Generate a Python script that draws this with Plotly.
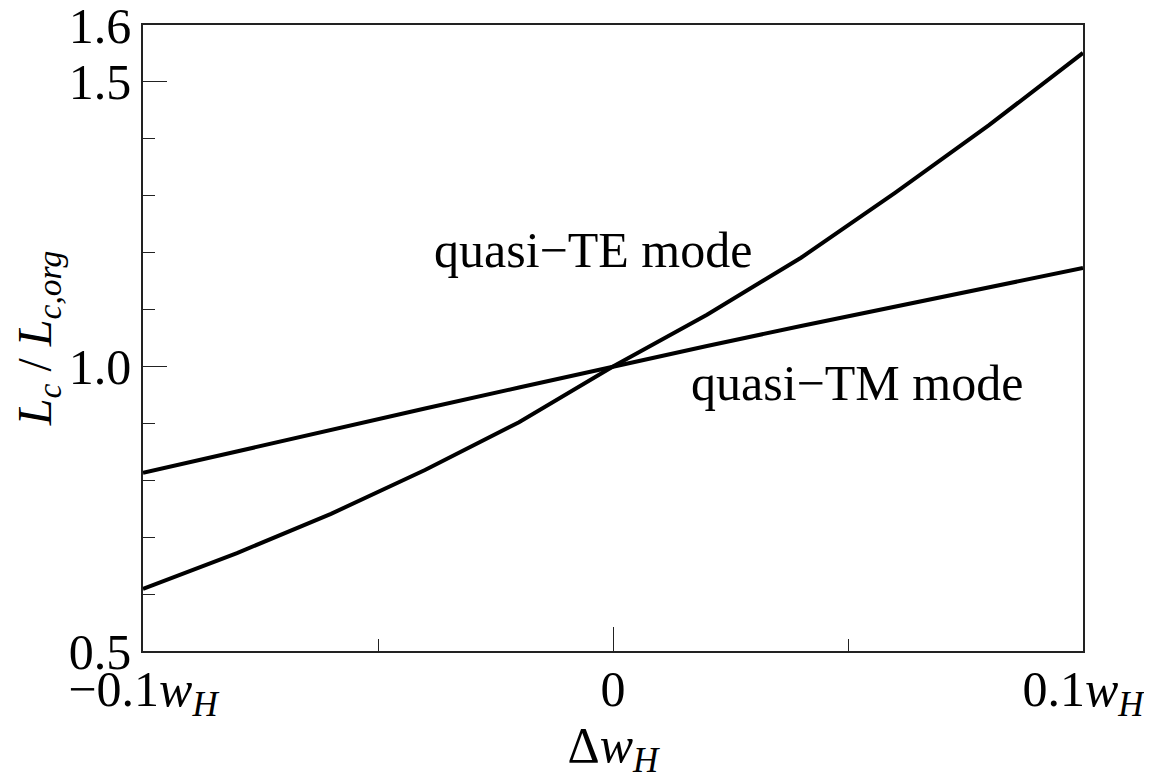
import plotly.graph_objects as go

# data
dw = [-0.1, -0.08, -0.06, -0.04, -0.02, 0.0, 0.02, 0.04, 0.06, 0.08, 0.1]
te_ratio = [0.609, 0.672, 0.741, 0.818, 0.902, 1.0, 1.091, 1.191, 1.305, 1.424, 1.551]
tm_ratio = [0.813, 0.851, 0.889, 0.926, 0.963, 1.0, 1.036, 1.071, 1.105, 1.139, 1.173]

x_tickvals = [-0.1, 0.0, 0.1]
x_ticktext = ["\u22120.1<i>w</i><sub><i>H</i></sub>", "0", "0.1<i>w</i><sub><i>H</i></sub>"]
x_minor = [-0.05, 0.05]
y_tickvals = [0.5, 1.0, 1.5, 1.6]
y_ticktext = ["0.5", "1.0", "1.5", "1.6"]
y_minor = [0.6, 0.7, 0.8, 0.9, 1.1, 1.2, 1.3, 1.4]

FONT = "Liberation Serif, Times New Roman, serif"

fig = go.Figure()
fig.add_trace(go.Scatter(x=dw, y=te_ratio, mode="lines",
                         line=dict(color="black", width=4), name="quasi-TE"))
fig.add_trace(go.Scatter(x=dw, y=tm_ratio, mode="lines",
                         line=dict(color="black", width=4), name="quasi-TM"))

fig.add_annotation(x=-0.0043, y=1.205, xref="x", yref="y", text="quasi\u2212TE mode",
                   showarrow=False, font=dict(family=FONT, size=50, color="black"))
fig.add_annotation(x=0.0519, y=0.971, xref="x", yref="y", text="quasi\u2212TM mode",
                   showarrow=False, font=dict(family=FONT, size=50, color="black"))

fig.update_layout(
    width=1152, height=772,
    margin=dict(l=135, r=77, t=17, b=129),
    paper_bgcolor="white", plot_bgcolor="white",
    showlegend=False,
    font=dict(family=FONT, size=50, color="black"),
)
fig.update_xaxes(
    range=[-0.1, 0.1], showgrid=False, zeroline=False, automargin=False,
    showline=True, linecolor="#222", linewidth=1.5, mirror=True,
    tickmode="array", tickvals=x_tickvals, ticktext=x_ticktext,
    ticks="inside", ticklen=24, tickwidth=1.2, tickcolor="#222",
    minor=dict(tickmode="array", tickvals=x_minor, ticks="inside", ticklen=12,
               tickwidth=1.2, tickcolor="#222"),
    tickfont=dict(family=FONT, size=50), ticklabeloverflow="allow",
    ticklabelstandoff=-7,
    title=dict(text="\u0394<i>w</i><sub><i>H</i></sub>", font=dict(family=FONT, size=50), standoff=0),
)
fig.update_yaxes(
    range=[0.5, 1.6], showgrid=False, zeroline=False, automargin=False,
    showline=True, linecolor="#222", linewidth=1.5, mirror=True,
    tickmode="array", tickvals=y_tickvals, ticktext=y_ticktext,
    ticks="inside", ticklen=24, tickwidth=1.2, tickcolor="#222",
    minor=dict(tickmode="array", tickvals=y_minor, ticks="inside", ticklen=12,
               tickwidth=1.2, tickcolor="#222"),
    tickfont=dict(family=FONT, size=50), ticklabeloverflow="allow",
    title=dict(text="<i>L<sub>c</sub></i> / <i>L<sub>c,org</sub></i>", font=dict(family=FONT, size=48), standoff=6),
)

fig.write_html("out.html")
